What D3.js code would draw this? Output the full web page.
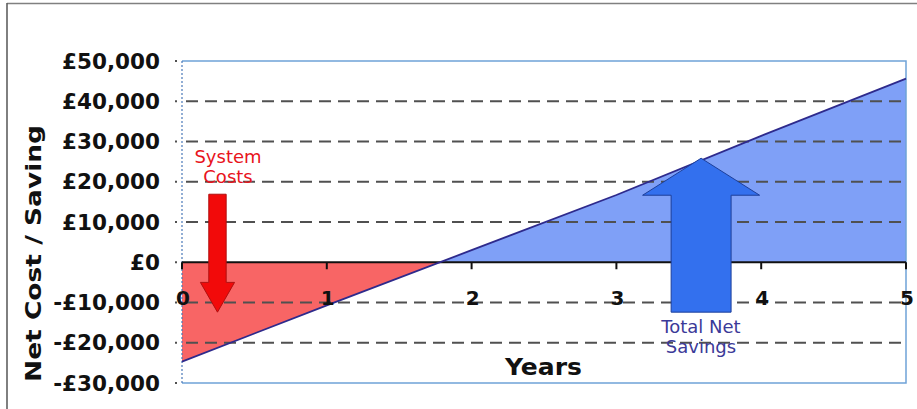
<!DOCTYPE html>
<html>
<head>
<meta charset="utf-8">
<script src="https://cdn.jsdelivr.net/npm/d3@7/dist/d3.min.js"></script>
<style>
  html, body { margin: 0; padding: 0; background: #fff; }
  svg { display: block; }
  text { font-family: "DejaVu Sans", Verdana, sans-serif; }
</style>
</head>
<body>
<svg id="chart" width="917" height="409"></svg>
<script>
// Cumulative net cost / saving by year
const years = [0, 1, 2, 3, 4, 5];
const netValues = [-24700, -10700, 3000, 16700, 31400, 45600];
const yTicks = [50000, 40000, 30000, 20000, 10000, 0, -10000, -20000, -30000];
const xTicks = [0, 1, 2, 3, 4, 5];

// Call-out arrows, in data units (year, £)
const costArrow = { x: 0.245, top: 16900, headBase: -5000, tip: -12400, shaftHalf: 0.06, headHalf: 0.118 };
const savingArrow = { x: 3.585, bottom: -12400, headBase: 16650, tip: 25850, shaftHalf: 0.207, headHalf: 0.404 };

const W = 917, H = 409;
const plot = { left: 182, right: 906, top: 61, bottom: 383 };

const svg = d3.select("#chart");

const x = d3.scaleLinear().domain([0, 5]).range([plot.left, plot.right]);
const y = d3.scaleLinear().domain([-30000, 50000]).range([plot.bottom, plot.top]);

const fmt = v => (v < 0 ? "-£" : "£") + d3.format(",")(Math.abs(v));

// Outer frame (top and left edges)
svg.append("line").attr("x1", 7).attr("x2", W).attr("y1", 3.5).attr("y2", 3.5)
  .attr("stroke", "#808080").attr("stroke-width", 1.6);
svg.append("line").attr("x1", 7).attr("x2", 7).attr("y1", 3).attr("y2", H)
  .attr("stroke", "#606060").attr("stroke-width", 1.6);

// Clip regions above and below the zero line
const defs = svg.append("defs");
defs.append("clipPath").attr("id", "below")
  .append("rect").attr("x", x(0)).attr("y", y(0))
  .attr("width", x(5) - x(0)).attr("height", y(-30000) - y(0));
defs.append("clipPath").attr("id", "above")
  .append("rect").attr("x", x(0)).attr("y", y(50000))
  .attr("width", x(5) - x(0)).attr("height", y(0) - y(50000));

const pts = years.map((yr, i) => ({ yr, v: netValues[i] }));
const area = d3.area().x(d => x(d.yr)).y0(y(0)).y1(d => y(d.v));

svg.append("path").datum(pts).attr("d", area)
  .attr("fill", "#f86565").attr("clip-path", "url(#below)");
svg.append("path").datum(pts).attr("d", area)
  .attr("fill", "#7fa0f7").attr("clip-path", "url(#above)");

// Dashed gridlines with small tick marks at the left
const grid = svg.append("g");
yTicks.filter(v => v !== 0 && v !== 50000 && v !== -30000).forEach(v => {
  grid.append("line").attr("x1", x(0)).attr("x2", x(5))
    .attr("y1", y(v)).attr("y2", y(v))
    .attr("stroke", "#505050").attr("stroke-width", 2)
    .attr("stroke-dasharray", "12,7").attr("stroke-dashoffset", -4);
});
yTicks.forEach(v => {
  grid.append("line").attr("x1", x(0) - 7).attr("x2", x(0) - 5)
    .attr("y1", y(v)).attr("y2", y(v))
    .attr("stroke", "#505050").attr("stroke-width", 2);
});

// Plot border (light blue) and dotted left edge
svg.append("path")
  .attr("d", `M${x(0)},${y(50000)}H${x(5)}V${y(-30000)}H${x(0)}`)
  .attr("fill", "none").attr("stroke", "#6fa3d8").attr("stroke-width", 1.5);
svg.append("line").attr("x1", x(0)).attr("x2", x(0))
  .attr("y1", y(50000)).attr("y2", y(-30000))
  .attr("stroke", "#4a78b8").attr("stroke-width", 1.2).attr("stroke-dasharray", "2,2");

// Zero axis with year ticks
svg.append("line").attr("x1", x(0)).attr("x2", x(5)).attr("y1", y(0)).attr("y2", y(0))
  .attr("stroke", "#111").attr("stroke-width", 2);
xTicks.forEach(t => {
  svg.append("line").attr("x1", x(t)).attr("x2", x(t)).attr("y1", y(0)).attr("y2", y(0) + 7)
    .attr("stroke", "#111").attr("stroke-width", 2);
});

// Net cost line
svg.append("path").datum(pts)
  .attr("d", d3.line().x(d => x(d.yr)).y(d => y(d.v)))
  .attr("fill", "none").attr("stroke", "#2e2a8c").attr("stroke-width", 1.8);

// Y tick labels
svg.append("g").selectAll("text").data(yTicks).join("text")
  .attr("x", x(0) - 22).attr("y", d => y(d)).attr("dy", "0.36em")
  .attr("text-anchor", "end").attr("font-weight", "bold").attr("font-size", 21.5)
  .attr("fill", "#111").text(fmt);

// X tick labels
svg.append("g").selectAll("text").data(xTicks).join("text")
  .attr("x", d => x(d) + 1).attr("y", y(0) + 43)
  .attr("text-anchor", "middle").attr("font-weight", "bold").attr("font-size", 20)
  .attr("fill", "#111").text(d => d);

// Axis titles
svg.append("text").attr("x", 505).attr("y", 375)
  .attr("font-weight", "bold").attr("font-size", 23)
  .attr("textLength", 77).attr("lengthAdjust", "spacingAndGlyphs")
  .attr("fill", "#111").text("Years");
svg.append("text").attr("transform", `translate(41,382) rotate(-90)`)
  .attr("font-weight", "bold").attr("font-size", 22)
  .attr("textLength", 257).attr("lengthAdjust", "spacingAndGlyphs")
  .attr("fill", "#111").text("Net Cost / Saving");

// System costs arrow (pointing down)
const ca = costArrow;
const caPath = d3.path();
caPath.moveTo(x(ca.x - ca.shaftHalf), y(ca.top));
caPath.lineTo(x(ca.x + ca.shaftHalf), y(ca.top));
caPath.lineTo(x(ca.x + ca.shaftHalf), y(ca.headBase));
caPath.lineTo(x(ca.x + ca.headHalf), y(ca.headBase));
caPath.lineTo(x(ca.x), y(ca.tip));
caPath.lineTo(x(ca.x - ca.headHalf), y(ca.headBase));
caPath.lineTo(x(ca.x - ca.shaftHalf), y(ca.headBase));
caPath.closePath();
svg.append("path").attr("d", caPath.toString())
  .attr("fill", "#f20a0a").attr("stroke", "#b01010").attr("stroke-width", 1);

svg.append("text").attr("x", 228).attr("y", 163)
  .attr("text-anchor", "middle").attr("font-size", 18).attr("fill", "#e8141c")
  .selectAll("tspan").data(["System", "Costs"]).join("tspan")
  .attr("x", 228).attr("dy", (d, i) => i === 0 ? 0 : 20).text(d => d);

// Total net savings arrow (pointing up)
const sa = savingArrow;
const saPath = d3.path();
saPath.moveTo(x(sa.x - sa.shaftHalf), y(sa.bottom));
saPath.lineTo(x(sa.x + sa.shaftHalf), y(sa.bottom));
saPath.lineTo(x(sa.x + sa.shaftHalf), y(sa.headBase));
saPath.lineTo(x(sa.x + sa.headHalf), y(sa.headBase));
saPath.lineTo(x(sa.x), y(sa.tip));
saPath.lineTo(x(sa.x - sa.headHalf), y(sa.headBase));
saPath.lineTo(x(sa.x - sa.shaftHalf), y(sa.headBase));
saPath.closePath();
svg.append("path").attr("d", saPath.toString())
  .attr("fill", "#3370ee").attr("stroke", "#1d3f9a").attr("stroke-width", 1);

svg.append("text").attr("x", 701).attr("y", 333)
  .attr("text-anchor", "middle").attr("font-size", 18).attr("fill", "#3b3a98")
  .selectAll("tspan").data(["Total Net", "Savings"]).join("tspan")
  .attr("x", 701).attr("dy", (d, i) => i === 0 ? 0 : 20).text(d => d);
</script>
</body>
</html>
